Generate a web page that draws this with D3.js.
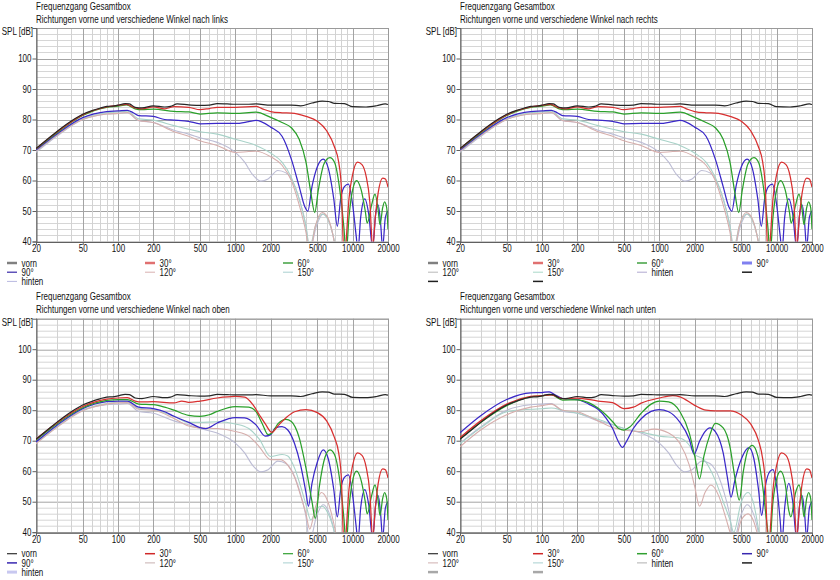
<!DOCTYPE html>
<html>
<head>
<meta charset="utf-8">
<script src="https://cdn.jsdelivr.net/npm/d3@7"></script>
<style>
  html, body { margin: 0; padding: 0; background: #fff; }
  svg text { font-family: "Liberation Sans", Arial, sans-serif; fill: #111; }
</style>
</head>
<body>
<svg id="chart" width="840" height="580"></svg>
<script>
// ---- data ----------------------------------------------------------------
const mainTitle = "Frequenzgang Gesamtbox";
const panelTitles = [
  "Richtungen vorne und verschiedene Winkel nach links",
  "Richtungen vorne und verschiedene Winkel nach rechts",
  "Richtungen vorne und verschiedene Winkel nach oben",
  "Richtungen vorne und verschiedene Winkel nach unten"
];
const yLabel = "SPL [dB]";
const freqTicks = [20, 50, 100, 200, 500, 1000, 2000, 5000, 10000, 20000];
const gridFreqs = [20, 30, 40, 50, 60, 70, 80, 90, 100, 150, 200, 300, 400, 500, 600, 700, 800, 900,
  1000, 1500, 2000, 3000, 4000, 5000, 6000, 7000, 8000, 9000, 10000, 15000, 20000];
const splTicks = [40, 50, 60, 70, 80, 90, 100];
const splGrid = d3.range(40, 111, 2);
const seriesNames = ["vorn", "30°", "60°", "90°", "120°", "150°", "hinten"];
const legendLabels3 = ["vorn", "30°", "60°", "90°", "120°", "150°", "hinten"];
const legendLabels4 = ["vorn", "30°", "60°", "90°", "120°", "150°", "hinten", "", "", ""];

const vorn = [[20,70.5],[25,73.5],[30,76],[40,79.5],[50,81.7],[60,82.9],[70,83.7],[80,84.3],[90,84.4],[100,84.7],[115,85.2],[125,85.1],[140,84],[160,83.8],[200,84.5],[250,84.1],[280,84.3],[320,85.1],[400,84.8],[500,84.6],[600,84.7],[700,85.2],[850,85.1],[1000,85],[1300,85],[1500,85.1],[2000,84.7],[3000,84.7],[3600,84.5],[4500,85.4],[5500,86],[6200,85.9],[7000,85.3],[8500,85.2],[10000,84.2],[13000,84.1],[16000,84.5],[19000,85.1],[20000,84.9]];
const hinten = [[20,69.2],[30,74.5],[50,80],[80,81.8],[100,82],[120,82.2],[150,79.6],[200,79],[300,76.5],[400,75.2],[500,74],[700,72.5],[1000,69.2],[1200,66],[1400,62],[1650,59.8],[1900,60.5],[2300,63.3],[2700,62.5],[3000,60.5],[3500,54],[4000,45],[4300,37],[4900,45],[5600,49],[6200,47],[6800,42],[7300,35]];

const links30 = [[20,70.4],[30,75.8],[50,81.5],[80,84.1],[100,84.6],[118,85],[140,83.8],[160,83.5],[200,84.1],[250,83.5],[300,84.2],[400,84],[500,83.2],[600,83.6],[700,84],[1000,84],[1500,84.3],[1700,83.5],[2000,82.6],[2500,82.2],[3000,82.1],[4000,81],[5000,79.4],[6000,76.3],[7000,71],[7600,66],[8000,58],[8300,40],[8600,34],[8800,40],[9300,54],[10000,62],[11000,66],[12000,65.2],[13000,61.5],[14000,53],[14800,38],[15600,48],[16500,56],[18000,60.8],[19000,60.5],[20000,57.8]];
const links60 = [[20,70.3],[30,75.6],[50,81.3],[80,84],[100,84.4],[118,84.8],[140,83.5],[160,83.2],[200,83.4],[300,82.7],[400,82.5],[500,81.8],[700,82.2],[1000,82],[1500,82.4],[2000,80.7],[2500,79],[3000,77.3],[3500,73.5],[4000,66],[4400,56],[4750,49.5],[5100,57],[5700,65.5],[6400,67.5],[7000,66],[7700,58],[8400,45],[8800,36],[9300,48],[10000,57],[10800,60],[11800,57],[12800,50],[13300,46],[14500,52],[15500,55.5],[16400,51],[17100,45.5],[18000,51],[18700,53],[19500,51],[20000,44]];
const links90 = [[20,70],[30,75.2],[50,80.6],[80,82.6],[100,82.8],[120,83],[135,82.2],[150,81.3],[200,81],[250,80],[300,79.8],[400,79.4],[500,78.6],[700,78.7],[1000,78.7],[1300,79.3],[1500,79.7],[2000,77.5],[2500,74.5],[3000,67],[3500,58],[3900,51.5],[4150,50],[4500,58],[5000,64.5],[5600,67],[6200,64],[6900,54],[7400,45],[7900,54],[8500,58],[9200,58.8],[10000,52],[10700,42],[11100,37],[11700,48],[12700,54],[13700,49],[14800,38],[15700,49],[16500,52],[17300,46],[18000,38],[19000,48],[20000,50]];
const links120 = [[20,69.6],[30,74.8],[50,80],[80,81.8],[100,82],[120,82.3],[150,79.7],[200,79],[300,76],[400,74.5],[500,73],[700,71.5],[1000,69.2],[1300,69.5],[1500,69.6],[2000,67.8],[2500,65],[3000,60],[3500,52],[4000,43],[4300,36],[4800,45],[5500,49.5],[6000,48.5],[6800,42],[7300,35]];
const links150 = [[20,69.5],[30,74.8],[50,80.2],[80,82.2],[100,82.5],[120,82.7],[150,80.2],[200,79.8],[300,78],[500,76],[700,75.2],[1000,73.5],[1500,71.5],[2000,69],[2500,66],[3000,61],[3500,54],[4000,45],[4300,38],[4800,45],[5500,49],[6200,47],[7000,40],[7400,35]];

const oben30 = [[20,70.5],[30,75.8],[50,81.2],[80,83.6],[100,84],[120,84.1],[140,83],[160,82.7],[200,82.8],[300,82.4],[350,83],[400,82.6],[500,83],[700,84],[1000,84.5],[1200,84.3],[1400,82],[1600,78.5],[1800,75.5],[2050,72.7],[2300,74.8],[2700,77.5],[3200,79.5],[4000,80.2],[5000,79.2],[6000,76.5],[7000,71],[7600,66],[8000,58],[8300,40],[8600,34],[8800,40],[9300,54],[10000,62],[11000,66],[12000,65.2],[13000,61.5],[14000,53],[14800,38],[15600,48],[16500,56],[18000,60.8],[19000,60.5],[20000,57.8]];
const oben60 = [[20,70.2],[30,75.5],[50,80.8],[80,83.2],[100,83.5],[120,83.5],[150,82],[200,81.8],[250,81],[300,80],[400,78.3],[500,78],[600,78.5],[700,79.6],[1000,81.2],[1300,81],[1500,79.5],[1700,75.5],[1900,72],[2050,72.5],[2300,75.5],[2700,77],[3000,76.3],[3500,71],[4000,61],[4500,50],[4800,44.5],[5200,55],[5800,64.5],[6400,67],[7000,65.5],[7700,58],[8400,45],[8800,36],[9300,48],[10000,57],[10800,60],[11800,57],[12800,50],[13300,46],[14500,52],[15500,55.5],[16400,51],[17100,45.5],[18000,51],[18700,53],[19500,51],[20000,44]];
const oben90 = [[20,69.6],[30,75],[50,80.5],[80,82.8],[100,83],[120,83],[150,81],[200,80.5],[250,79.5],[300,78],[400,76],[500,74.3],[560,74],[700,75.8],[1000,77.6],[1200,77.5],[1500,75.2],[1800,71.5],[2000,72],[2200,74.2],[2500,74.6],[2800,73.5],[3200,69],[3600,62],[4000,53],[4200,48.5],[4500,56],[5000,63],[5600,67],[6200,64],[6900,54],[7400,45],[7900,54],[8500,58],[9200,58.8],[10000,52],[10700,42],[11100,37],[11700,48],[12700,54],[13700,49],[14800,38],[15700,49],[16500,52],[17300,46],[18000,38],[19000,48],[20000,50]];
const oben120 = [[20,69],[30,74.3],[50,79.8],[80,82],[100,82.4],[120,82.5],[150,80.3],[200,80],[300,77.3],[400,74.8],[500,74.2],[700,74],[1000,73],[1300,71.5],[1600,68],[2000,63.8],[2400,63.8],[2800,62],[3200,58],[3600,52],[4000,46],[4300,41],[4800,48],[5400,53],[6000,51],[6800,44],[7400,37]];
const oben150 = [[20,69.3],[30,74.6],[50,80],[80,82.2],[100,82.6],[120,82.7],[150,80.6],[200,80.2],[300,78],[400,76],[500,76],[700,76.2],[1000,75.5],[1300,74],[1600,70.5],[2000,64.8],[2500,65.5],[2800,65],[3200,61],[3600,55],[4000,49],[4400,44],[5000,48],[5500,48.5],[6200,46],[7000,40],[7500,35]];

const unten30 = [[20,71],[30,76.5],[50,82],[80,84.5],[100,84.8],[120,85],[150,83.8],[200,84],[300,83],[400,82.5],[500,80.5],[600,81],[700,82.3],[1000,84],[1300,84.8],[1500,84.4],[2000,81.6],[2500,80],[3000,79.8],[4000,79.8],[5000,78.4],[6000,75.5],[7000,70],[7600,64],[8000,56],[8300,40],[8600,34],[8800,40],[9300,54],[10000,62],[11000,66],[12000,65.2],[13000,61.5],[14000,53],[14800,38],[15600,48],[16500,56],[18000,60.8],[19000,60.5],[20000,57.8]];
const unten60 = [[20,70.6],[30,76],[50,81.5],[80,84.4],[100,84.7],[120,85],[150,83.3],[200,83.4],[250,82.5],[300,80.7],[350,78.5],[400,76.2],[450,74],[500,73.5],[560,74.5],[700,79],[850,82],[1000,83],[1200,82.7],[1500,79.5],[1800,72.5],[2000,65],[2200,57.5],[2400,65],[2700,72],[3000,75.7],[3500,74.2],[4000,68],[4400,58],[4800,50.5],[5200,60],[5700,67],[6200,68.5],[6900,65],[7600,55],[8300,42],[8700,36],[9300,50],[10000,57.5],[10800,60],[11800,56],[12700,47],[13200,45],[14500,53],[15500,55.5],[16400,51],[17100,45],[18000,51],[18700,53],[19500,51],[20000,44]];
const unten90 = [[20,72.6],[30,78.2],[50,83.5],[80,85.7],[100,85.8],[115,86],[130,85],[150,83.8],[200,83.5],[250,82],[300,80.3],[350,77.5],[400,74],[450,69.5],[485,67.8],[520,69.5],[600,74],[700,77.2],[850,79.6],[1000,80.2],[1200,79.5],[1500,76],[1800,70.5],[1980,65.6],[2200,69.8],[2450,73],[2700,74.2],[3000,73],[3500,66],[3800,58],[4080,51.5],[4400,57],[5000,64],[5800,67.7],[6400,64],[7000,54],[7450,45.5],[8000,55],[8800,60],[9300,60.5],[10000,55],[10700,44],[11100,37],[11700,48],[12700,56],[13700,50],[14800,38],[15700,49],[16500,52],[17300,46],[18000,38],[19000,48],[20000,50]];
const unten120 = [[20,68],[30,73.5],[50,78.5],[80,81],[100,81.5],[120,82],[150,80],[200,79.5],[300,76.5],[400,74.3],[500,73.5],[700,73],[900,73.8],[1200,72.5],[1500,69],[1800,62],[2000,55],[2200,48.5],[2450,53],[2750,55.5],[3200,52],[3600,46],[4000,40],[4300,36],[5000,44],[5700,46],[6300,44],[7000,38]];
const unten150 = [[20,69],[30,74.2],[50,79.5],[80,80.3],[100,80.5],[120,80.7],[150,80],[200,79],[300,77],[500,74],[700,72.8],[1000,71.5],[1500,70.8],[1800,68.5],[2000,65.5],[2400,63.8],[3000,57],[3500,50],[4000,44],[4300,40],[5000,50],[5700,53],[6300,50],[7000,41],[7400,35]];

// per panel: vorn, 30, 60, 90, 120, 150, hinten
const panelSeries = [
  [vorn, links30, links60, links90, links120, links150, hinten],
  [vorn, links30, links60, links90, links120, links150, hinten],
  [vorn, oben30, oben60, oben90, oben120, oben150, hinten],
  [vorn, unten30, unten60, unten90, unten120, unten150, hinten]
];

// ---- styles & layout -----------------------------------------------------
const curveColors = ["#262626", "#d83030", "#2aa02a", "#3a28c8", "#d6aeac", "#a8d2c8", "#bcbcd4"];
const curveWidths = [1.2, 1.25, 1.25, 1.25, 1.1, 1.1, 1.1];
const swatches = [
  [["#808080",2.5],["#e07070",2.5],["#70b870",2],["#3828a8",1.2],["#d8b0b0",1],["#a8d0d0",1],["#b8b8e0",1]],
  [["#808080",2.5],["#e07070",2.5],["#70b870",2],["#8080f0",3],["#b8b8b8",1],["#a8d8c8",1],["#b0a8d0",1],["#202020",1.5],["#202020",1.5],["#202020",1.5]],
  [["#303030",1.2],["#d02828",1.5],["#30a030",1.2],["#3828b0",1.5],["#c8b0b0",1],["#a8d0d0",1],["#c8c8f0",3]],
  [["#303030",1.2],["#d02828",1.5],["#30a030",1.5],["#3828b0",1.5],["#d0b0b0",1],["#a8d0d0",1],["#b0b0b0",1],["#202020",1.5],["#a8a8a8",2.5],["#a8a8a8",2.5]]
];
const panelPos = [[0, 0], [424, 0], [0, 290.7], [424, 290.7]];
const plotL = 36, plotR = 388, plotT = 28, plotB = 241.5;
const squeeze = 0.8;   // the original GUI font is narrow

const svg = d3.select("#chart");
const x = d3.scaleLog().domain([20, 20000]).range([plotL, plotR]);
const y = d3.scaleLinear().domain([40, 110]).range([plotB, plotT]);
const line = d3.line().x(d => x(d[0])).y(d => y(d[1])).curve(d3.curveMonotoneX);

function label(g, tx, ty, str, size, anchor) {
  return g.append("text")
    .attr("transform", `translate(${tx},${ty}) scale(${squeeze},1)`)
    .attr("font-size", size)
    .attr("text-anchor", anchor || "start")
    .text(str);
}

panelPos.forEach((pos, pi) => {
  const g = svg.append("g").attr("transform", `translate(${pos[0]},${pos[1]})`);

  label(g, plotL, 9.6, mainTitle, 10);
  label(g, plotL, 22.6, panelTitles[pi], 10);
  label(g, plotL - 3, 35.3, yLabel, 10, "end");

  // grid
  g.append("g").selectAll("line").data(splGrid).join("line")
    .attr("x1", plotL).attr("x2", plotR)
    .attr("y1", d => Math.round(y(d)) + 0.5).attr("y2", d => Math.round(y(d)) + 0.5)
    .attr("stroke", d => d % 10 === 0 ? "#a4a4a4" : "#d6d6d6").attr("stroke-width", 1);
  g.append("g").selectAll("line").data(gridFreqs).join("line")
    .attr("x1", d => Math.round(x(d)) + 0.5).attr("x2", d => Math.round(x(d)) + 0.5)
    .attr("y1", plotT).attr("y2", plotB)
    .attr("stroke", d => freqTicks.includes(d) ? "#a4a4a4" : "#d2d2d2").attr("stroke-width", 1);

  // frame
  g.append("rect").attr("x", plotL + 0.5).attr("y", plotT + 0.5)
    .attr("width", plotR - plotL).attr("height", plotB - plotT)
    .attr("fill", "none").attr("stroke", "#9a9a9a");

  // axes
  const ya = g.append("g").attr("transform", `translate(${plotL + 0.5},0)`)
    .call(d3.axisLeft(y).tickValues(splTicks).tickSize(4).tickPadding(1));
  const xa = g.append("g").attr("transform", `translate(0,${plotB + 0.5})`)
    .call(d3.axisBottom(x).tickValues(freqTicks).tickFormat(d3.format("d")).tickSize(3).tickPadding(0));
  [ya, xa].forEach(a => {
    a.select(".domain").attr("stroke", "#606060");
    a.selectAll(".tick line").attr("stroke", "#606060");
    a.selectAll("text").attr("font-size", 10).attr("fill", "#111")
      .attr("font-family", "'Liberation Sans', Arial, sans-serif");
  });
  ya.selectAll("text").attr("x", -5 / squeeze).attr("transform", `scale(${squeeze},1)`);
  xa.selectAll("text").attr("transform", `scale(${squeeze},1)`);

  // curves
  const clipId = `clip${pi}`;
  g.append("clipPath").attr("id", clipId).append("rect")
    .attr("x", plotL).attr("y", plotT).attr("width", plotR - plotL).attr("height", plotB - plotT);
  const cg = g.append("g").attr("clip-path", `url(#${clipId})`);
  const order = [6, 5, 4, 3, 2, 1, 0];
  order.forEach(si => {
    cg.append("path").datum(panelSeries[pi][si])
      .attr("d", line).attr("fill", "none")
      .attr("stroke", curveColors[si]).attr("stroke-width", curveWidths[si])
      .attr("stroke-linejoin", "round");
  });

  // legend
  const four = pi % 2 === 1;
  const labels = four ? legendLabels4 : legendLabels3;
  const cols = four ? [4, 109, 213, 318] : [7, 145, 283];
  const lg = g.append("g");
  labels.forEach((lab, i) => {
    const cx = cols[i % cols.length];
    const cy = 263 + Math.floor(i / cols.length) * 9.2;
    const sw = swatches[pi][i];
    lg.append("line").attr("x1", cx).attr("x2", cx + 10).attr("y1", cy).attr("y2", cy)
      .attr("stroke", sw[0]).attr("stroke-width", sw[1]);
    if (lab) label(lg, cx + 14.5, cy + 3.6, lab, 10);
  });
});
</script>
</body>
</html>
